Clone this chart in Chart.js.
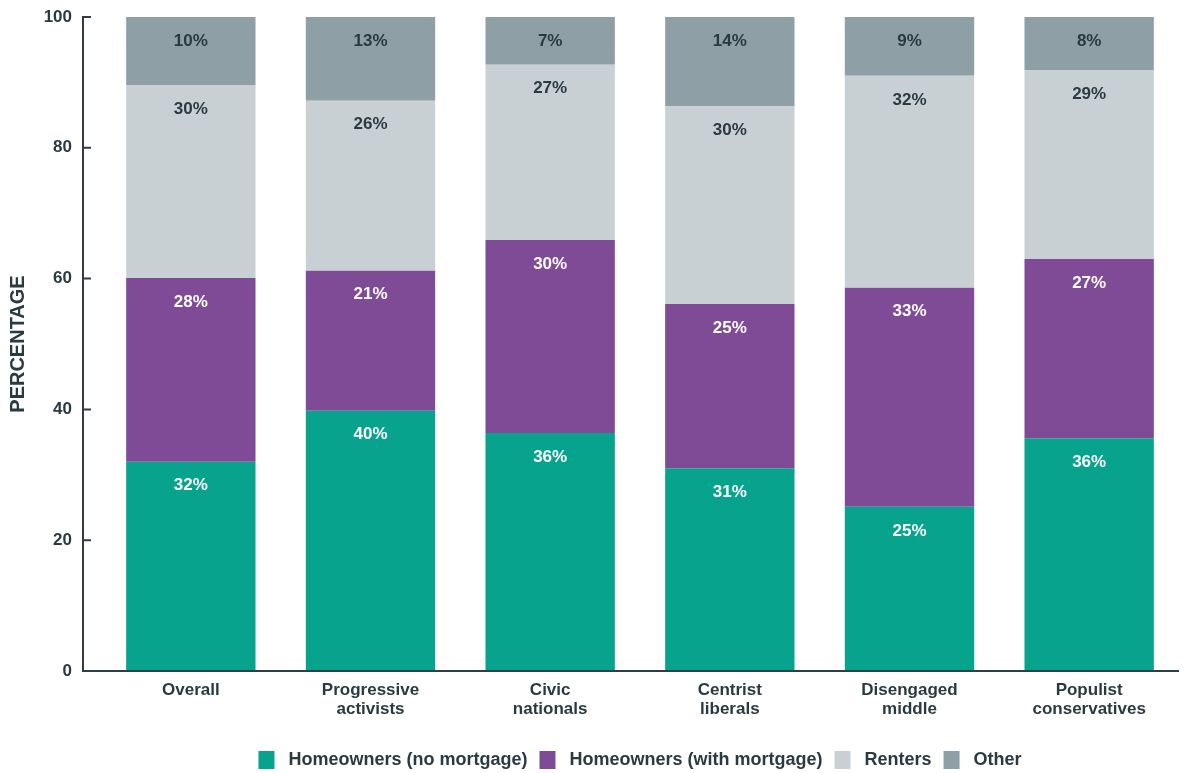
<!DOCTYPE html>
<html>
<head>
<meta charset="utf-8">
<script src="https://cdn.jsdelivr.net/npm/chart.js@4"></script>
<style>
  html, body { margin: 0; padding: 0; background: #fff; }
  #wrap { width: 1188px; height: 773px; }
</style>
</head>
<body>
<div id="wrap"><canvas id="housingChart"></canvas></div>
<script>
// categories
const groups = [
    'Overall',
    ['Progressive', 'activists'],
    ['Civic', 'nationals'],
    ['Centrist', 'liberals'],
    ['Disengaged', 'middle'],
    ['Populist', 'conservatives']
];

// series values (percent)
const ownNoMortgage   = [32.0, 39.8, 36.4, 31.0, 25.1, 35.6];
const ownWithMortgage = [28.1, 21.4, 29.5, 25.1, 33.5, 27.4];
const renters         = [29.5, 26.0, 26.8, 30.3, 32.4, 28.9];
const other           = [10.4, 12.8, 7.3, 13.6, 9.0, 8.1];

// printed labels
const ownNoMortgageLabels   = ['32%', '40%', '36%', '31%', '25%', '36%'];
const ownWithMortgageLabels = ['28%', '21%', '30%', '25%', '33%', '27%'];
const rentersLabels         = ['30%', '26%', '27%', '30%', '32%', '29%'];
const otherLabels           = ['10%', '13%', '7%', '14%', '9%', '8%'];

const yTicks = [0, 20, 40, 60, 80, 100];

const textColor = '#2b3a41';
const axisColor = '#2f3d44';
const sans = '"Liberation Sans", Arial, sans-serif';

// percent text near the top of each segment
const segmentLabels = {
    id: 'segmentLabels',
    afterDatasetsDraw(chart) {
        const ctx = chart.ctx;
        ctx.save();
        ctx.font = 'bold 17px ' + sans;
        ctx.textAlign = 'center';
        ctx.textBaseline = 'middle';
        chart.data.datasets.forEach((ds, i) => {
            const meta = chart.getDatasetMeta(i);
            meta.data.forEach((bar, j) => {
                ctx.fillStyle = ds.labelColor;
                ctx.fillText(ds.printed[j], bar.x, bar.y + 24);
            });
        });
        ctx.restore();
    }
};

// axis lines sit a little left of the first bar slot, ticks point inward
const axisLines = {
    id: 'axisLines',
    afterDatasetsDraw(chart) {
        const a = chart.chartArea;
        const y = chart.scales.y;
        const ctx = chart.ctx;
        const x0 = a.left - 18;
        ctx.save();
        ctx.strokeStyle = axisColor;
        ctx.lineWidth = 2;
        ctx.beginPath();
        ctx.moveTo(x0, a.top - 1);
        ctx.lineTo(x0, a.bottom);
        ctx.lineTo(a.right, a.bottom);
        yTicks.forEach(v => {
            const py = y.getPixelForValue(v);
            ctx.moveTo(x0, py);
            ctx.lineTo(x0 + 8, py);
        });
        ctx.stroke();
        ctx.restore();
    }
};

const ctx = document.getElementById('housingChart').getContext('2d');
new Chart(ctx, {
    type: 'bar',
    data: {
        labels: groups,
        datasets: [
            {
                label: 'Homeowners (no mortgage)',
                data: ownNoMortgage,
                printed: ownNoMortgageLabels,
                labelColor: '#ffffff',
                backgroundColor: '#07a38c'
            },
            {
                label: 'Homeowners (with mortgage)',
                data: ownWithMortgage,
                printed: ownWithMortgageLabels,
                labelColor: '#ffffff',
                backgroundColor: '#7f4b97'
            },
            {
                label: 'Renters',
                data: renters,
                printed: rentersLabels,
                labelColor: textColor,
                backgroundColor: '#c9d0d4'
            },
            {
                label: 'Other',
                data: other,
                printed: otherLabels,
                labelColor: textColor,
                backgroundColor: '#8f9fa6'
            }
        ]
    },
    options: {
        responsive: true,
        maintainAspectRatio: false,
        animation: false,
        layout: { padding: { top: 17, right: 9, left: 4, bottom: -6 } },
        datasets: {
            bar: { barPercentage: 0.72, categoryPercentage: 1.0 }
        },
        plugins: {
            legend: {
                position: 'bottom',
                fullSize: false,
                labels: {
                    color: textColor,
                    font: { family: sans, size: 18, weight: 'bold' },
                    boxWidth: 16,
                    boxHeight: 18,
                    padding: 12,
                    generateLabels(chart) {
                        // a little more room between swatch and text
                        return Chart.defaults.plugins.legend.labels.generateLabels(chart)
                            .map(item => Object.assign(item, { text: ' ' + item.text }));
                    }
                }
            },
            tooltip: { enabled: false }
        },
        scales: {
            x: {
                stacked: true,
                grid: { display: false },
                border: { display: false },
                ticks: {
                    color: textColor,
                    font: { family: sans, size: 17, weight: 'bold', lineHeight: 1.1 },
                    padding: 2,
                    maxRotation: 0
                },
                afterFit(scale) { scale.height = 68; }
            },
            y: {
                stacked: true,
                min: 0,
                max: 100,
                afterBuildTicks(scale) { scale.ticks = yTicks.map(v => ({ value: v })); },
                grid: {
                    display: true,
                    drawOnChartArea: false,
                    drawTicks: true,
                    tickLength: 25,
                    color: 'rgba(0,0,0,0)'
                },
                border: { display: false },
                ticks: {
                    color: textColor,
                    font: { family: sans, size: 17, weight: 'bold' },
                    padding: 4
                },
                title: {
                    display: true,
                    text: 'PERCENTAGE',
                    color: textColor,
                    font: { family: sans, size: 20, weight: 'bold' },
                    padding: { top: 2, bottom: 0 }
                },
                afterFit(scale) { scale.width = 97; }
            }
        }
    },
    plugins: [segmentLabels, axisLines]
});
</script>
</body>
</html>
